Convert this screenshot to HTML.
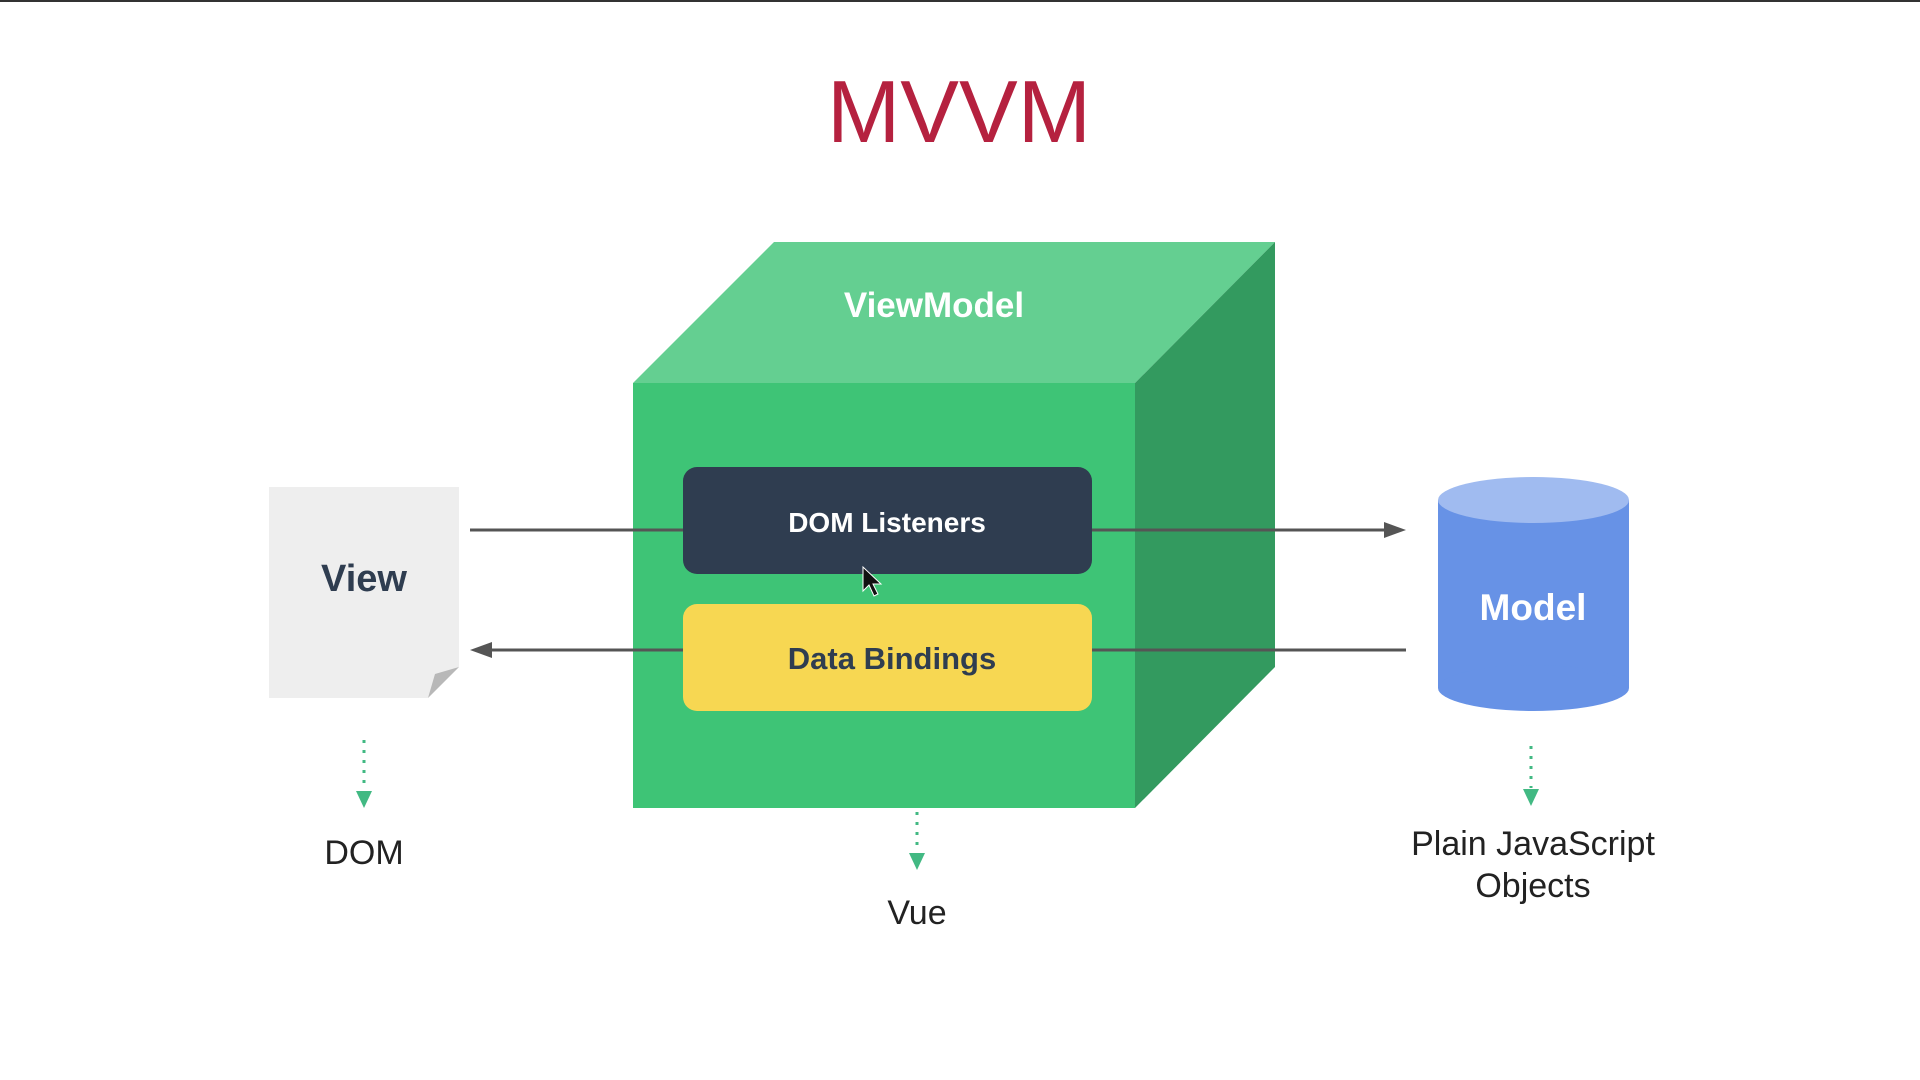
<!DOCTYPE html>
<html><head><meta charset="utf-8"><style>
html,body{margin:0;padding:0;width:1920px;height:1080px;overflow:hidden;background:#fff}
</style></head><body>
<svg width="1920" height="1080" xmlns="http://www.w3.org/2000/svg" font-family="'Liberation Sans', 'DejaVu Sans', sans-serif">
<rect x="0" y="0" width="1920" height="2" fill="#333"/>
<text x="959" y="142" text-anchor="middle" font-size="88" fill="#b5213f">MVVM</text>
<!-- cube -->
<polygon points="633,383 774,242 1275,242 1135,383" fill="#64cf91"/>
<polygon points="1135,383 1275,242 1275,667 1135,808" fill="#339a5f"/>
<rect x="633" y="383" width="502" height="425" fill="#3ec476"/>
<text x="934" y="317" text-anchor="middle" font-size="35" font-weight="bold" fill="#fff">ViewModel</text>
<!-- arrows -->
<line x1="470" y1="530" x2="1390" y2="530" stroke="#555" stroke-width="3"/>
<polygon points="1406,530 1384,522 1384,538" fill="#555"/>
<line x1="485" y1="650" x2="1406" y2="650" stroke="#555" stroke-width="3"/>
<polygon points="470,650 492,642 492,658" fill="#555"/>
<rect x="683" y="467" width="409" height="107" rx="14" fill="#2f3d50"/>
<text x="887" y="532" text-anchor="middle" font-size="28" font-weight="bold" fill="#fff">DOM Listeners</text>
<rect x="683" y="604" width="409" height="107" rx="14" fill="#f7d752"/>
<text x="892" y="669" text-anchor="middle" font-size="31" font-weight="bold" fill="#2f3d50">Data Bindings</text>
<!-- view -->
<polygon points="269,487 459,487 459,667 428,698 269,698" fill="#eeeeee"/>
<polygon points="428,698 459,667 435,674" fill="#b8b8b8"/>
<text x="364" y="591" text-anchor="middle" font-size="38" font-weight="bold" fill="#2f3d50">View</text>
<!-- model -->
<rect x="1438" y="500" width="191" height="188" fill="#6792e6"/>
<ellipse cx="1533.5" cy="688" rx="95.5" ry="23" fill="#6792e6"/>
<ellipse cx="1533.5" cy="500" rx="95.5" ry="23" fill="#a0bbf0"/>
<text x="1533" y="620" text-anchor="middle" font-size="37" font-weight="bold" fill="#fff">Model</text>
<!-- dotted arrows -->
<g stroke="#42b983" stroke-width="3" stroke-dasharray="3,7">
<line x1="364" y1="740" x2="364" y2="790"/>
<line x1="917" y1="812" x2="917" y2="852"/>
<line x1="1531" y1="746" x2="1531" y2="788"/>
</g>
<g fill="#42b983">
<polygon points="356,791 372,791 364,808"/>
<polygon points="909,853 925,853 917,870"/>
<polygon points="1523,789 1539,789 1531,806"/>
</g>
<g font-size="34" fill="#222" text-anchor="middle">
<text x="364" y="864">DOM</text>
<text x="917" y="924">Vue</text>
<text x="1533" y="855">Plain JavaScript</text>
<text x="1533" y="897">Objects</text>
</g>
<!-- cursor -->
<polygon points="863,567 863,591 869,585 874,596 878,594 873,584 881,584" fill="#111" stroke="#fff" stroke-width="1"/>
</svg>
</body></html>
